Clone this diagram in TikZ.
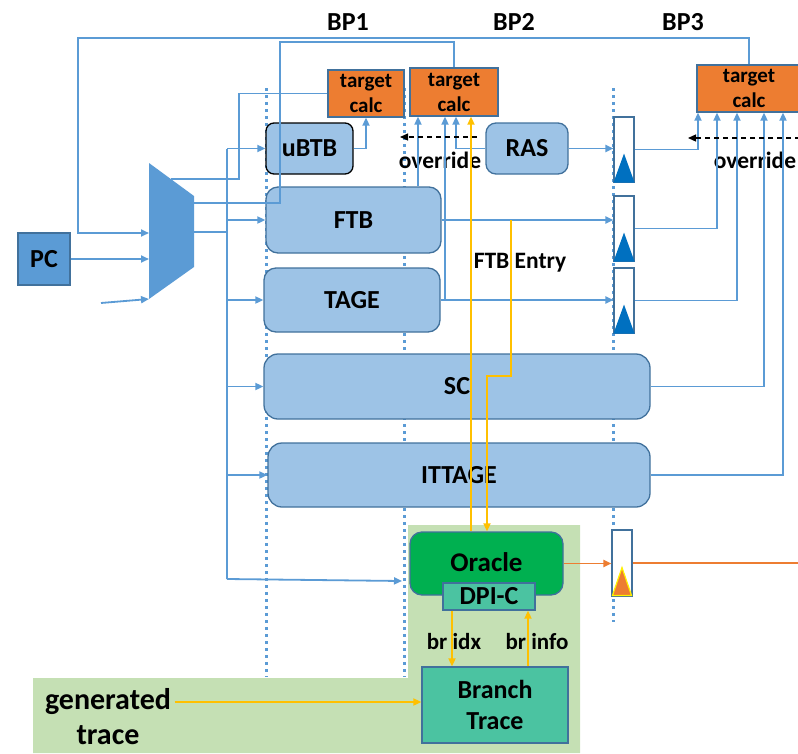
\documentclass[tikz,border=0pt]{standalone}
\usepackage{fontspec}
\setmainfont{Carlito}
\usetikzlibrary{arrows.meta,calc}
\definecolor{lineblue}{HTML}{5B9BD5}
\definecolor{boxblue}{HTML}{9DC3E6}
\definecolor{edgeblue}{HTML}{41719C}
\definecolor{calcorange}{HTML}{ED7D31}
\definecolor{traceyellow}{HTML}{FFC000}
\definecolor{oraclegreen}{HTML}{00B050}
\definecolor{dpiteal}{HTML}{4BC3A1}
\definecolor{bggreen}{HTML}{C5E0B4}
\definecolor{tridark}{HTML}{0070C0}
\tikzset{
  lbl/.style={font=\bfseries\fontsize{26}{28}\selectfont},
  unit/.style={draw=edgeblue, line width=1.3pt, fill=boxblue, inner sep=0pt,
    rounded corners=12pt, lbl},
  calcbox/.style={draw=edgeblue, line width=1.3pt, fill=calcorange, inner sep=0pt,
    align=center, font=\bfseries\fontsize{21}{25}\selectfont},
  regbox/.style={draw=edgeblue, line width=1.1pt, fill=white, inner sep=0pt,
    minimum width=20pt, minimum height=65pt},
  tealbox/.style={draw=edgeblue, line width=1.3pt, fill=dpiteal, inner sep=0pt, lbl},
  note/.style={font=\bfseries\fontsize{23.5}{26}\selectfont},
  wire/.style={draw=lineblue, line width=1.8pt},
  yel/.style={draw=traceyellow, line width=1.8pt},
  org/.style={draw=calcorange, line width=1.8pt},
  tip/.style={-{Triangle[length=8pt,width=7pt]}},
  guide/.style={draw=lineblue, line width=3pt, dash pattern=on 3pt off 4pt},
  ovr/.style={draw=black, line width=1.3pt, dash pattern=on 5pt off 4pt,
    -{Triangle[length=8pt,width=7pt]}},
}
\begin{document}
\begin{tikzpicture}[x=1pt,y=-1pt]
\useasboundingbox (0,0) rectangle (798,753);

% light green area holding the oracle and the trace source
\fill[bggreen] (408,525) -- (580,525) -- (580,753) -- (33,753) -- (33,678)
  -- (408,678) -- cycle;

% pipeline stage boundaries
\foreach \gx/\gy in {266/677, 404/677, 613/622}
  \draw[guide] (\gx,88) -- (\gx,\gy);

% stage labels
\node[lbl] (bp1) at (348,22) {BP1};
\node[lbl] (bp2) at (514,22) {BP2};
\node[lbl] (bp3) at (683,22) {BP3};

% PC and the input multiplexer
\node[draw=edgeblue, line width=1.3pt, fill=lineblue, minimum width=52pt,
  minimum height=52pt, inner sep=0pt, lbl] (pc) at (44,259) {PC};
\fill[lineblue] (149,163) -- (194,196) -- (194,267) -- (149,299) -- cycle;
\coordinate (mux-a) at (149,233);
\coordinate (mux-b) at (149,259);
\coordinate (mux-c) at (149,299);
\coordinate (mux-t) at (171,179);
\coordinate (mux-o1) at (194,203);
\coordinate (mux-o2) at (194,232);
\coordinate (extin) at (101,303);

% predictor units
\node[unit, draw=black, rounded corners=8pt, minimum width=87pt, minimum height=51pt]
  (ubtb) at (309.5,148.5) {uBTB};
\node[unit, minimum width=175pt, minimum height=66pt] (ftb) at (353.5,220) {FTB};
\node[unit, minimum width=176pt, minimum height=64pt] (tage) at (352,300) {TAGE};
\node[unit, rounded corners=14pt, minimum width=386pt, minimum height=65pt]
  (sc) at (457,386.5) {SC};
\node[unit, rounded corners=14pt, minimum width=382pt, minimum height=64pt]
  (ittage) at (459,475) {ITTAGE};
\node[unit, rounded corners=10pt, minimum width=82pt, minimum height=51pt]
  (ras) at (527,148.5) {RAS};

% target calculation blocks
\node[calcbox, minimum width=76pt, minimum height=47pt] (tc1) at (366,93.5) {target\\calc};
\node[calcbox, minimum width=88pt, minimum height=48pt] (tc2) at (454,92) {target\\calc};
\node[calcbox, minimum width=104pt, minimum height=47pt] (tc3) at (749,88.5) {target\\calc};

% stage registers
\node[regbox] (reg1) at (624,149.5) {};
\node[regbox] (reg2) at (624,228.5) {};
\node[regbox] (reg3) at (624,300.5) {};
\node[regbox, minimum height=66pt] (reg4) at (622,563) {};
\foreach \r in {reg1,reg2,reg3}
  \fill[tridark] (\r.south west) -- (\r.south east) -- ($(\r.south)+(0,-29)$) -- cycle;
\filldraw[fill=calcorange, draw=yellow, line width=1.2pt]
  ($(reg4.south west)+(1,-1)$) -- ($(reg4.south east)+(-1,-1)$)
  -- ($(reg4.south)+(0,-29)$) -- cycle;

% oracle and trace source
\node[draw=edgeblue, line width=1.3pt, fill=oraclegreen, rounded corners=12pt,
  minimum width=153pt, minimum height=63pt, inner sep=0pt] (oracle) at (486.5,563.5) {};
\node[font=\bfseries\fontsize{27}{29}\selectfont] (oraclelbl) at (486.5,562) {Oracle};
\node[tealbox, minimum width=92pt, minimum height=27pt] (dpic) at (489,596.5) {DPI-C};
\node[tealbox, align=center, font=\bfseries\fontsize{26}{31}\selectfont,
  minimum width=146pt, minimum height=76pt] (brtrace) at (495,705) {Branch\\Trace};
\node[font=\bfseries\fontsize{30}{32}\selectfont] (gen1) at (108,702) {generated};
\node[font=\bfseries\fontsize{30}{32}\selectfont] (gen2) at (108,735) {trace};

% text labels on connectors
\node[note] (ov1) at (440,160) {override};
\node[note] (ov2) at (755,160) {override};
\node[note] (ftbentry) at (520,263) {FTB Entry};
\node[font=\bfseries\fontsize{23}{25}\selectfont] (bridx) at (454,642) {br idx};
\node[font=\bfseries\fontsize{23}{25}\selectfont] (brinfo) at (537,642) {br info};

% column positions of vertical connectors
\coordinate (busx) at (227,0);
\coordinate (ftbup) at (418,0);
\coordinate (tageup) at (445,0);
\coordinate (rasup) at (456,0);
\coordinate (orcup) at (471,0);
\coordinate (orcdn) at (487,0);
\coordinate (tapx) at (511,0);
\coordinate (tapbend) at (511,376);
\coordinate (r1x) at (698,0);
\coordinate (r2x) at (717,0);
\coordinate (r3x) at (737,0);
\coordinate (scx) at (764,0);
\coordinate (itx) at (783,0);
\coordinate (orx) at (806,0);
\coordinate (idxx) at (452,0);
\coordinate (infox) at (528,0);
\coordinate (busend) at (227,579);
\coordinate (orcin) at (402,581);

% feedback paths and multiplexer inputs
\draw[wire, tip] (tc3.north) -- (749,38) -- (78,38) -- (78,233) -- (mux-a);
\draw[wire] (mux-o1) -- (280,203) -- (280,42) -| (tc2.north);
\draw[wire] (tc1.west) -| (239,179) -- (mux-t);
\draw[wire, tip] (pc.east) -- (mux-b);
\draw[wire, tip] (extin) -- (mux-c);

% PC distribution bus
\draw[wire] (mux-o2) -- (busx |- mux-o2);
\draw[wire] (busx |- ubtb.west) -- (busend);
\draw[wire, tip] (busx |- ubtb.west) -- (ubtb.west);
\draw[wire, tip] (busx |- ftb.west) -- (ftb.west);
\draw[wire, tip] (busx |- tage.west) -- (tage.west);
\draw[wire, tip] (busx |- sc.west) -- (sc.west);
\draw[wire, tip] (busx |- ittage.west) -- (ittage.west);
\draw[wire, tip] (busend) -- (orcin);

% first and second stage results
\draw[wire, tip] (ubtb.east) -| (tc1.south);
\draw[wire, tip] (ftbup |- ftb.north) -- (ftbup |- tc2.south);
\draw[wire, tip] (tage.east) -- (tage.east -| reg3.west);
\draw[wire, tip] (tageup |- tage.east) -- (tageup |- tc2.south);
\draw[wire, tip] (ras.west) -| (rasup |- tc2.south);
\draw[wire, tip] (ras.east) -- (ras.east -| reg1.west);
\draw[wire, tip] (ftb.east) -- (ftb.east -| reg2.west);

% third stage results
\draw[wire, tip] (reg1.east) -| (r1x |- tc3.south);
\draw[wire, tip] (reg2.east) -| (r2x |- tc3.south);
\draw[wire, tip] (reg3.east) -| (r3x |- tc3.south);
\draw[wire, tip] (sc.east) -| (scx |- tc3.south);
\draw[wire, tip] (ittage.east) -| (itx |- tc3.south);

% override hints
\coordinate (ov1s) at (477,137);
\coordinate (ov1e) at (400,137);
\coordinate (ov2s) at (800,138);
\coordinate (ov2e) at (688,138);
\draw[ovr] (ov1s) -- (ov1e);
\draw[ovr] (ov2s) -- (ov2e);

% oracle links
\draw[yel, tip] (orcup |- oracle.north) -- (orcup |- tc2.south);
\draw[yel, tip] (tapx |- ftb.east) -- (tapbend) -| (orcdn |- oracle.north);
\draw[org, tip] (oracle.east) -- (oracle.east -| reg4.west);
\draw[org, tip] (reg4.east) -| (orx |- tc3.south);
\draw[yel, tip] (idxx |- dpic.south) -- (idxx |- brtrace.north);
\draw[yel, tip] (infox |- brtrace.north) -- (infox |- dpic.south);
\draw[yel, tip] (gen1.east) -- (gen1.east -| brtrace.west);
\end{tikzpicture}
\end{document}
